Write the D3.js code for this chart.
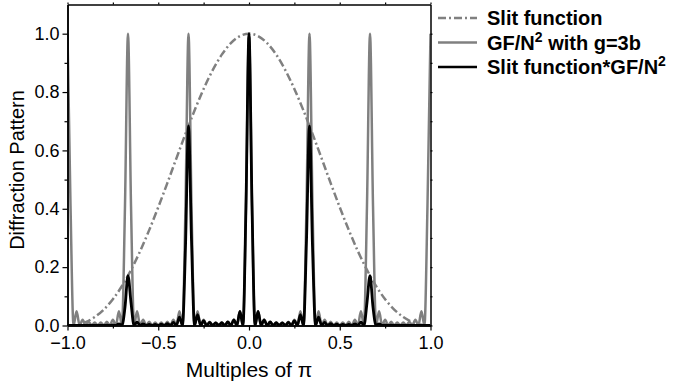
<!DOCTYPE html>
<html>
<head>
<meta charset="utf-8">
<script src="https://cdn.jsdelivr.net/npm/d3@7"></script>
<style>
  body { margin: 0; background: #fff; }
  svg { display: block; font-family: "Liberation Sans", Arial, sans-serif; }
</style>
</head>
<body>
<svg id="chart" width="678" height="386"></svg>
<script>
// sample positions (multiples of pi), step 1/60
const xPos = [
  -1, -0.9833, -0.9667, -0.95, -0.9333, -0.9167, -0.9, -0.8833, -0.8667, -0.85,
  -0.8333, -0.8167, -0.8, -0.7833, -0.7667, -0.75, -0.7333, -0.7167, -0.7, -0.6833,
  -0.6667, -0.65, -0.6333, -0.6167, -0.6, -0.5833, -0.5667, -0.55, -0.5333, -0.5167,
  -0.5, -0.4833, -0.4667, -0.45, -0.4333, -0.4167, -0.4, -0.3833, -0.3667, -0.35,
  -0.3333, -0.3167, -0.3, -0.2833, -0.2667, -0.25, -0.2333, -0.2167, -0.2, -0.1833,
  -0.1667, -0.15, -0.1333, -0.1167, -0.1, -0.0833, -0.0667, -0.05, -0.0333, -0.0167,
  0,
  0.0167, 0.0333, 0.05, 0.0667, 0.0833, 0.1, 0.1167, 0.1333, 0.15, 0.1667,
  0.1833, 0.2, 0.2167, 0.2333, 0.25, 0.2667, 0.2833, 0.3, 0.3167, 0.3333,
  0.35, 0.3667, 0.3833, 0.4, 0.4167, 0.4333, 0.45, 0.4667, 0.4833, 0.5,
  0.5167, 0.5333, 0.55, 0.5667, 0.5833, 0.6, 0.6167, 0.6333, 0.65, 0.6667,
  0.6833, 0.7, 0.7167, 0.7333, 0.75, 0.7667, 0.7833, 0.8, 0.8167, 0.8333,
  0.85, 0.8667, 0.8833, 0.9, 0.9167, 0.9333, 0.95, 0.9667, 0.9833, 1
];

// GF/N^2 (gray)
const gratingVals = [
  1,
  0.409, 0, 0.049, 0, 0.020, 0, 0.013, 0, 0.010, 0, 0.010, 0, 0.013, 0, 0.020, 0, 0.049, 0, 0.409, 1,
  0.409, 0, 0.049, 0, 0.020, 0, 0.013, 0, 0.010, 0, 0.010, 0, 0.013, 0, 0.020, 0, 0.049, 0, 0.409, 1,
  0.409, 0, 0.049, 0, 0.020, 0, 0.013, 0, 0.010, 0, 0.010, 0, 0.013, 0, 0.020, 0, 0.049, 0, 0.409, 1,
  0.409, 0, 0.049, 0, 0.020, 0, 0.013, 0, 0.010, 0, 0.010, 0, 0.013, 0, 0.020, 0, 0.049, 0, 0.409, 1,
  0.409, 0, 0.049, 0, 0.020, 0, 0.013, 0, 0.010, 0, 0.010, 0, 0.013, 0, 0.020, 0, 0.049, 0, 0.409, 1,
  0.409, 0, 0.049, 0, 0.020, 0, 0.013, 0, 0.010, 0, 0.010, 0, 0.013, 0, 0.020, 0, 0.049, 0, 0.409, 1
];

// Slit function * GF/N^2 (black)
const productVals = [
  0,
  0.0001, 0, 0.0001, 0, 0.0002, 0, 0.0002, 0, 0.0003, 0, 0.0005, 0, 0.0008, 0, 0.0018, 0, 0.0058, 0, 0.062, 0.171,
  0.078, 0, 0.0113, 0, 0.0056, 0, 0.0041, 0, 0.0039, 0, 0.0045, 0, 0.0061, 0, 0.0109, 0, 0.029, 0, 0.268, 0.684,
  0.290, 0, 0.037, 0, 0.0162, 0, 0.0108, 0, 0.0092, 0, 0.0095, 0, 0.012, 0, 0.0195, 0, 0.048, 0, 0.408, 1,
  0.408, 0, 0.048, 0, 0.0195, 0, 0.012, 0, 0.0095, 0, 0.0092, 0, 0.0108, 0, 0.0162, 0, 0.037, 0, 0.290, 0.684,
  0.268, 0, 0.029, 0, 0.0109, 0, 0.0061, 0, 0.0045, 0, 0.0039, 0, 0.0041, 0, 0.0056, 0, 0.0113, 0, 0.078, 0.171,
  0.062, 0, 0.0058, 0, 0.0018, 0, 0.0008, 0, 0.0005, 0, 0.0003, 0, 0.0002, 0, 0.0002, 0, 0.0001, 0, 0.0001, 0
];

// slit function (dash-dot), step 0.05
const slitX = [
  -1, -0.95, -0.9, -0.85, -0.8, -0.75, -0.7, -0.65, -0.6, -0.55, -0.5, -0.45, -0.4, -0.35,
  -0.3, -0.25, -0.2, -0.15, -0.1, -0.05, 0, 0.05, 0.1, 0.15, 0.2, 0.25, 0.3, 0.35,
  0.4, 0.45, 0.5, 0.55, 0.6, 0.65, 0.7, 0.75, 0.8, 0.85, 0.9, 0.95, 1
];
const slitVals = [
  0, 0.0027, 0.0119, 0.0289, 0.0547, 0.0901, 0.1353, 0.1904, 0.2546, 0.3268, 0.4053, 0.4881, 0.5728, 0.6566,
  0.7368, 0.8106, 0.8751, 0.9281, 0.9675, 0.9918, 1, 0.9918, 0.9675, 0.9281, 0.8751, 0.8106, 0.7368, 0.6566,
  0.5728, 0.4881, 0.4053, 0.3268, 0.2546, 0.1904, 0.1353, 0.0901, 0.0547, 0.0289, 0.0119, 0.0027, 0
];

const xMajor = [-1, -0.5, 0, 0.5, 1];
const xMinor = [-0.75, -0.25, 0.25, 0.75];
const yMajor = [0, 0.2, 0.4, 0.6, 0.8, 1.0];
const yMinor = [0.1, 0.3, 0.5, 0.7, 0.9];

const legendItems = [
  { label: "Slit function", sup: null, rest: null, color: "#808080", dash: "8,3,2,3" },
  { label: "GF/N", sup: "2", rest: " with g=3b", color: "#808080", dash: null },
  { label: "Slit function*GF/N", sup: "2", rest: null, color: "#000", dash: null }
];

const svg = d3.select("#chart");
const plotL = 67.5, plotR = 430.5, plotT = 4.5, plotB = 325.5;

const x = d3.scaleLinear().domain([-1, 1]).range([plotL, plotR]);
const y = d3.scaleLinear().domain([0, 1.1]).range([plotB, plotT]);

svg.append("defs").append("clipPath").attr("id", "plotClip")
  .append("rect").attr("x", plotL).attr("y", plotT).attr("width", plotR - plotL).attr("height", plotB - plotT);

const plot = svg.append("g").attr("clip-path", "url(#plotClip)");

const lineGen = (xs) => d3.line()
  .x((d, i) => x(xs[i]))
  .y(d => y(d))
  .curve(d3.curveMonotoneX);

plot.append("path")
  .attr("d", lineGen(slitX)(slitVals))
  .attr("fill", "none").attr("stroke", "#808080").attr("stroke-width", 2.5)
  .attr("stroke-dasharray", "8,3,2,3");

plot.append("path")
  .attr("d", lineGen(xPos)(gratingVals))
  .attr("fill", "none").attr("stroke", "#808080").attr("stroke-width", 2.5)
  .attr("stroke-linejoin", "round");

plot.append("path")
  .attr("d", lineGen(xPos)(productVals))
  .attr("fill", "none").attr("stroke", "#000").attr("stroke-width", 2.8)
  .attr("stroke-linejoin", "round");

// axes
const fmt = d3.format(".1f");
function styleAxis(g) {
  g.selectAll(".domain").attr("stroke", "#000").attr("stroke-width", 1.5);
  g.selectAll(".tick line").attr("stroke", "#000").attr("stroke-width", 1.2);
  g.selectAll("text").attr("font-size", 18).attr("fill", "#000")
    .attr("font-family", "'Liberation Sans', Arial, sans-serif");
}

svg.append("g").attr("transform", `translate(0,${plotB})`)
  .call(d3.axisBottom(x).tickValues(xMajor).tickFormat(fmt).tickSize(5).tickPadding(6).tickSizeOuter(0))
  .call(styleAxis);
svg.append("g").attr("transform", `translate(0,${plotB})`)
  .call(d3.axisBottom(x).tickValues(xMinor).tickFormat("").tickSize(3).tickSizeOuter(0))
  .call(styleAxis);

svg.append("g").attr("transform", `translate(${plotL},0)`)
  .call(d3.axisLeft(y).tickValues(yMajor).tickFormat(fmt).tickSize(5).tickPadding(3).tickSizeOuter(0))
  .call(styleAxis);
svg.append("g").attr("transform", `translate(${plotL},0)`)
  .call(d3.axisLeft(y).tickValues(yMinor).tickFormat("").tickSize(3).tickSizeOuter(0))
  .call(styleAxis);

svg.append("g").attr("transform", `translate(0,${plotT})`)
  .call(d3.axisTop(x).tickValues(xMajor.concat(xMinor)).tickFormat("").tickSize(2).tickSizeOuter(0))
  .call(styleAxis);
svg.append("g").attr("transform", `translate(${plotR},0)`)
  .call(d3.axisRight(y).tickValues(yMajor.concat(yMinor)).tickFormat("").tickSize(2).tickSizeOuter(0))
  .call(styleAxis);

// axis titles
svg.append("text")
  .attr("x", (plotL + plotR) / 2).attr("y", 377)
  .attr("text-anchor", "middle").attr("font-size", 21).attr("fill", "#000")
  .text("Multiples of π");

svg.append("text")
  .attr("transform", `translate(24,170) rotate(-90)`)
  .attr("text-anchor", "middle").attr("font-size", 20).attr("fill", "#000")
  .text("Diffraction Pattern");

// legend
const legend = svg.append("g");
legendItems.forEach((item, i) => {
  const ly = 18 + i * 24.5;
  legend.append("line")
    .attr("x1", 438).attr("x2", 477).attr("y1", ly).attr("y2", ly)
    .attr("stroke", item.color).attr("stroke-width", 2.5)
    .attr("stroke-dasharray", item.dash);
  const t = legend.append("text")
    .attr("x", 487).attr("y", ly + 7)
    .attr("font-size", 20).attr("font-weight", "bold").attr("fill", "#000");
  t.append("tspan").text(item.label);
  if (item.sup) {
    t.append("tspan").attr("font-size", 14).attr("dy", -8).text(item.sup);
    if (item.rest) t.append("tspan").attr("dy", 8).text(item.rest);
  }
});
</script>
</body>
</html>
